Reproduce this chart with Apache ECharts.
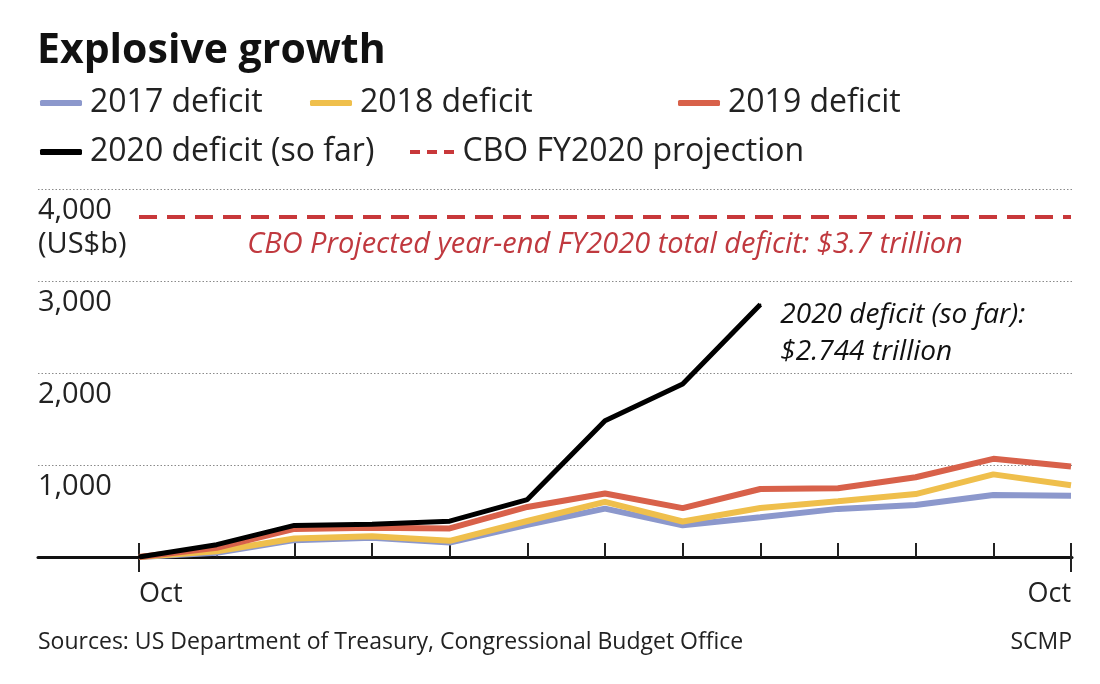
<!DOCTYPE html>
<html>
<head>
<meta charset="utf-8">
<script src="https://cdn.jsdelivr.net/npm/echarts@6/dist/echarts.min.js"></script>
<style>html,body{margin:0;padding:0;background:#fff;}#chart{width:1100px;height:684px;}</style>
</head>
<body>
<div id="chart"></div>
<script>
// ---- data ----
var months = ['Oct','Nov','Dec','Jan','Feb','Mar','Apr','May','Jun','Jul','Aug','Sep','Oct'];
var deficit2017 = [0, 45, 183, 210, 158, 350, 526, 344, 433, 523, 566, 674, 666];
var deficit2018 = [0, 63, 202, 225, 176, 391, 600, 386, 532, 607, 684, 898, 779];
var deficit2019 = [0, 100, 305, 319, 310, 544, 691, 531, 739, 747, 867, 1067, 984];
var deficit2020 = [0, 134, 343, 357, 389, 624, 1481, 1880, 2744, null, null, null, null];
var cboProjection = 3700;
var yTicks = [0, 1000, 2000, 3000, 4000];
var yUnit = '(US$b)';

var FONT = 'Open Sans';
var TXT = '#222';
var C17 = '#8c98cc', C18 = '#efbf4c', C19 = '#d8614a', C20 = '#000000', CCBO = '#c8383a';

var lastIdx2020 = 8;
var data2020 = deficit2020.map(function (v, i) {
  if (i === lastIdx2020) {
    return {
      value: v,
      label: {
        show: true, position: 'right', offset: [14, 29],
        formatter: '2020 deficit (so far):\n$2.744 trillion',
        fontFamily: FONT, fontStyle: 'italic', fontSize: 28, lineHeight: 37, color: '#111'
      }
    };
  }
  return v;
});

var legendBase = function (name, left, top, icon, w, h) {
  return {
    data: [name], left: left, top: top, icon: icon, itemWidth: w, itemHeight: h,
    itemGap: 0, padding: 0, selectedMode: false,
    textStyle: { fontFamily: FONT, fontSize: 32, color: TXT, lineHeight: 38, padding: [0, 0, 0, 3] }
  };
};

var chart = echarts.init(document.getElementById('chart'), null, { renderer: 'canvas' });
chart.setOption({
  animation: false,
  backgroundColor: '#fff',
  title: [
    { text: 'Explosive growth', left: 37, top: 31, padding: 0,
      textStyle: { fontFamily: FONT, fontWeight: 'bold', fontSize: 41, color: '#111' } },
    { text: 'Sources: US Department of Treasury, Congressional Budget Office', left: 38, top: 631, padding: 0,
      textStyle: { fontFamily: FONT, fontWeight: 'normal', fontSize: 23, color: TXT } },
    { text: 'SCMP', right: 28, top: 631, padding: 0,
      textStyle: { fontFamily: FONT, fontWeight: 'normal', fontSize: 23, color: TXT } }
  ],
  legend: [
    legendBase('2017 deficit', 40, 84, 'roundRect', 42, 6),
    legendBase('2018 deficit', 310, 84, 'roundRect', 42, 6),
    legendBase('2019 deficit', 678, 84, 'roundRect', 42, 6),
    legendBase('2020 deficit (so far)', 40, 133, 'roundRect', 42, 6),
    legendBase('CBO FY2020 projection', 410, 133, 'path://M0,0h10v4h-10z M17,0h10v4h-10z M34,0h10v4h-10z', 45, 4)
  ],
  grid: [
    { left: 38, right: 28, top: 189, bottom: 127 },
    { left: 139, right: 29, top: 189, bottom: 127 }
  ],
  xAxis: [
    { gridIndex: 0, type: 'value', min: 0, max: 1, position: 'bottom',
      axisLine: { show: true, lineStyle: { color: '#111', width: 3 } },
      axisTick: { show: false }, axisLabel: { show: false }, splitLine: { show: false } },
    { gridIndex: 1, type: 'category', data: months, boundaryGap: false, position: 'bottom',
      axisLine: { show: false },
      axisTick: { show: true, inside: true, length: 14, alignWithLabel: true, interval: 0, lineStyle: { color: '#222', width: 2 } },
      axisLabel: { show: true, interval: function (i) { return i === 0 || i === months.length - 1; },
        alignMinLabel: 'left', alignMaxLabel: 'right', margin: 24,
        fontFamily: FONT, fontSize: 27, color: TXT },
      splitLine: { show: false } },
    { gridIndex: 1, type: 'category', data: months, boundaryGap: false, position: 'bottom',
      axisLine: { show: false },
      axisTick: { show: true, inside: false, length: 15, interval: function (i) { return i === 0 || i === months.length - 1; }, lineStyle: { color: '#222', width: 2 } },
      axisLabel: { show: false }, splitLine: { show: false } }
  ],
  yAxis: [
    { gridIndex: 0, type: 'value', min: yTicks[0], max: yTicks[yTicks.length - 1], interval: 1000,
      axisLine: { show: false }, axisTick: { show: false },
      splitLine: { show: true, lineStyle: { color: '#8a8a8a', type: [1.5, 2], width: 1 } },
      axisLabel: { show: true, inside: true, margin: 0, align: 'left', verticalAlign: 'top',
        fontFamily: FONT, fontSize: 29, color: TXT, lineHeight: 34, padding: [5, 0, 0, 0],
        formatter: function (v) {
          if (v === 0) return '';
          var s = v.toLocaleString('en-US');
          return v === yTicks[yTicks.length - 1] ? s + '\n' + yUnit : s;
        } } },
    { gridIndex: 1, type: 'value', min: yTicks[0], max: yTicks[yTicks.length - 1], interval: 1000,
      show: false, splitLine: { show: false } }
  ],
  series: [
    { name: '2017 deficit', type: 'line', xAxisIndex: 1, yAxisIndex: 1, data: deficit2017,
      symbol: 'none', color: C17, lineStyle: { color: C17, width: 6 }, z: 3 },
    { name: '2018 deficit', type: 'line', xAxisIndex: 1, yAxisIndex: 1, data: deficit2018,
      symbol: 'none', color: C18, lineStyle: { color: C18, width: 6 }, z: 4 },
    { name: '2019 deficit', type: 'line', xAxisIndex: 1, yAxisIndex: 1, data: deficit2019,
      symbol: 'none', color: C19, lineStyle: { color: C19, width: 6 }, z: 5 },
    { name: '2020 deficit (so far)', type: 'line', xAxisIndex: 1, yAxisIndex: 1, data: data2020,
      symbol: 'circle', symbolSize: 2, showSymbol: true, showAllSymbol: true,
      itemStyle: { color: C20 }, color: C20, lineStyle: { color: C20, width: 5 }, z: 6 },
    { name: 'CBO FY2020 projection', type: 'line', xAxisIndex: 1, yAxisIndex: 1, data: [],
      symbol: 'none', color: CCBO, lineStyle: { color: CCBO, width: 4, type: [18, 10] },
      markLine: {
        silent: true, symbol: ['none', 'none'],
        lineStyle: { color: CCBO, width: 4, type: [18, 10] },
        label: { show: true, position: 'insideMiddleBottom', distance: 14,
          formatter: 'CBO Projected year-end FY2020 total deficit: $3.7 trillion',
          fontFamily: FONT, fontStyle: 'italic', fontSize: 29, color: '#c0393f' },
        data: [{ yAxis: cboProjection }]
      } }
  ]
});
</script>
</body>
</html>
